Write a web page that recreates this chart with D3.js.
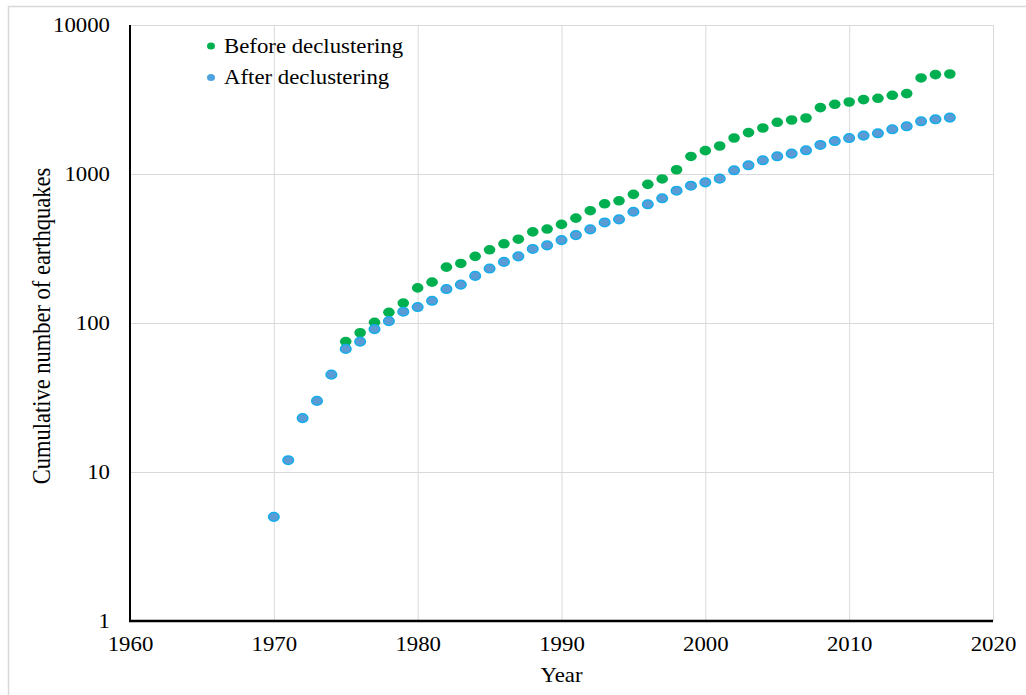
<!DOCTYPE html>
<html>
<head>
<meta charset="utf-8">
<script src="https://cdn.jsdelivr.net/npm/d3@7"></script>
<style>
  body { margin: 0; background: #fff; }
  text { font-family: "Liberation Serif", "Times New Roman", serif; fill: #000; }
</style>
</head>
<body>
<div class="plot-1"></div>
<script>
// dados
const anos = d3.range(1970, 2018);
const valoresDepois = [5, 12, 23, 30, 45, 67, 75, 91, 103, 119,
  128, 141, 169, 181, 207, 232, 257, 280, 314, 332,
  360, 389, 425, 473, 496, 558, 626, 687, 772, 834,
  879, 931, 1059, 1144, 1236, 1315, 1371, 1442, 1566, 1665,
  1744, 1810, 1876, 1995, 2090, 2258, 2329, 2391];
const anosAntes = d3.range(1975, 2018);
const valoresAntes = [75, 86, 101, 118, 136,
  172, 188, 237, 251, 280, 310, 340, 365, 409, 427,
  459, 506, 567, 631, 661, 730, 852, 926, 1068, 1312,
  1435, 1541, 1744, 1896, 2036, 2223, 2304, 2376, 2790, 2936,
  3042, 3157, 3221, 3374, 3463, 4410, 4646, 4690];
const xTicks = [1960, 1970, 1980, 1990, 2000, 2010, 2020];
const yTicks = [1, 10, 100, 1000, 10000];
const series = ['Before declustering', 'After declustering'];

var svgDims = {width: 1026, height: 695};
var margin = {top: 25, right: 33, bottom: 74, left: 130};
var width = svgDims.width - margin.left - margin.right;
var height = svgDims.height - margin.top - margin.bottom;
var sx = 1.14; // esticamento horizontal do texto

var svg = d3.select('.plot-1')
  .append('svg')
  .attr('width', svgDims.width)
  .attr('height', svgDims.height);

// borda externa
svg.append('rect')
  .attr('x', 8.5).attr('y', 6.5)
  .attr('width', 1100).attr('height', 800)
  .attr('fill', 'none').attr('stroke', '#d9d9d9').attr('stroke-width', 1.5);

var g = svg.append('g').attr('transform', 'translate(' + margin.left + ',' + margin.top + ')');

var xScale = d3.scaleLinear().domain([1960, 2020]).range([0, width]);
var yScale = d3.scaleLog().domain([1, 10000]).range([height, 0]);

// grades
g.append('g')
  .attr('transform', 'translate(0,' + height + ')')
  .call(d3.axisBottom(xScale).tickValues(xTicks).tickSize(-height).tickFormat(''))
  .call(s => s.select('.domain').remove())
  .selectAll('line').attr('stroke', '#d9d9d9');

g.append('g')
  .call(d3.axisLeft(yScale).tickValues(yTicks).tickSize(-width).tickFormat(''))
  .call(s => s.select('.domain').remove())
  .selectAll('line').attr('stroke', '#d9d9d9');

// eixos
var xAxis = g.append('g')
  .attr('transform', 'translate(0,' + height + ')')
  .call(d3.axisBottom(xScale).tickValues(xTicks).tickSize(0).tickPadding(0).tickFormat(d3.format('d')));
xAxis.select('.domain').remove();
xAxis.selectAll('text')
  .attr('y', 30).attr('dy', 0)
  .style('font-size', '20px')
  .attr('transform', 'scale(' + sx + ',1)');

var yAxis = g.append('g')
  .call(d3.axisLeft(yScale).tickValues(yTicks).tickSize(0).tickFormat(d3.format('d')));
yAxis.select('.domain').remove();
yAxis.selectAll('text')
  .attr('x', -20 / sx).attr('dy', '0.34em')
  .style('font-size', '20px')
  .attr('transform', 'scale(' + sx + ',1)');

g.append('line')
  .attr('x1', 0).attr('x2', 0).attr('y1', 0).attr('y2', height + 1)
  .attr('stroke', '#000').attr('stroke-width', 2);
g.append('line')
  .attr('x1', -1).attr('x2', width).attr('y1', height).attr('y2', height)
  .attr('stroke', '#000').attr('stroke-width', 2.5);

// pontos
g.append('g').selectAll('ellipse')
  .data(valoresAntes)
  .enter().append('ellipse')
  .attr('cx', (d, i) => xScale(anosAntes[i]))
  .attr('cy', d => yScale(d))
  .attr('rx', 5.8).attr('ry', 4.8)
  .attr('fill', '#00b050');

g.append('g').selectAll('ellipse')
  .data(valoresDepois)
  .enter().append('ellipse')
  .attr('cx', (d, i) => xScale(anos[i]))
  .attr('cy', d => yScale(d))
  .attr('rx', 5.3).attr('ry', 4.3)
  .attr('fill', '#5b9bd5')
  .attr('stroke', '#12adeb').attr('stroke-width', 1.5);

// legenda
var cores = ['#00b050', '#4fa3e0'];
var leg = svg.append('g');
series.forEach(function(nome, i) {
  var yy = 46 + i * 31.5;
  leg.append('ellipse')
    .attr('cx', 211).attr('cy', yy)
    .attr('rx', 4).attr('ry', 3.5)
    .attr('fill', cores[i]);
  leg.append('text')
    .attr('transform', 'translate(224,' + (yy + 6.5) + ') scale(' + sx + ',1)')
    .style('font-size', '20px')
    .text(nome);
});

// titulos
svg.append('text')
  .attr('transform', 'translate(' + (margin.left + width / 2) + ',682) scale(' + sx + ',1)')
  .attr('text-anchor', 'middle')
  .style('font-size', '20px')
  .text('Year');

svg.append('text')
  .attr('transform', 'translate(50,326) scale(' + sx + ',1) rotate(-90)')
  .attr('text-anchor', 'middle')
  .style('font-size', '22.5px')
  .text('Cumulative number of earthquakes');
</script>
</body>
</html>
